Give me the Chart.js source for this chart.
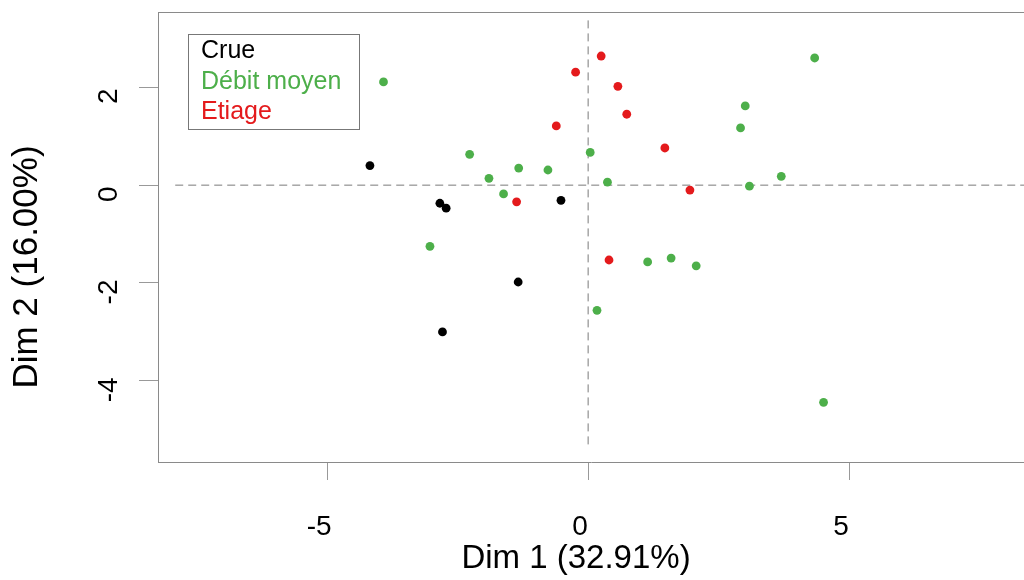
<!DOCTYPE html>
<html>
<head>
<meta charset="utf-8">
<script src="https://cdn.jsdelivr.net/npm/chart.js@4.4.1/dist/chart.umd.min.js"></script>
<style>
  html, body { margin: 0; padding: 0; background: #fff; overflow: hidden; }
  canvas { display: block; }
</style>
</head>
<body>
<canvas id="pca" width="1024" height="580"></canvas>
<script>
// groups and colours (legend order)
const groups = ['Crue', 'Débit moyen', 'Etiage'];
const groupColors = ['#000000', '#4DAF4A', '#E41A1C'];

// individual coordinates on Dim 1 / Dim 2
const crueX = [-4.18, -2.84, -2.72, -0.52, -1.34, -2.79];
const crueY = [0.40, -0.37, -0.47, -0.31, -1.98, -3.00];

const debitX = [-3.92, -2.27, -1.90, -1.33, -1.62, -0.77, 0.04, 0.37, -3.03, 1.14,
                1.59, 2.07, 3.01, 2.92, 3.09, 3.70, 4.34, 0.17, 4.51];
const debitY = [2.11, 0.63, 0.14, 0.35, -0.18, 0.31, 0.67, 0.06, -1.25, -1.57,
                -1.49, -1.65, 1.62, 1.17, -0.02, 0.18, 2.60, -2.56, -4.44];

const etiageX = [0.25, -0.24, 0.57, 0.74, -0.61, 1.47, 1.95, -1.37, 0.40];
const etiageY = [2.64, 2.31, 2.02, 1.45, 1.21, 0.76, -0.10, -0.34, -1.53];

// dashed reference lines through the origin
const hLineX = [-7.91, 8.35];
const hLineY = [0, 0];
const vLineX = [0, 0];
const vLineY = [-5.3, 3.37];

// axes
const xRange = [-8.24, 8.35];
const yRange = [-5.66, 3.54];
const xTicks = [-5, 0, 5];
const yTicks = [-4, -2, 0, 2];
const xTitle = 'Dim 1 (32.91%)';
const yTitle = 'Dim 2 (16.00%)';

const FONT = '"Liberation Sans", Arial, sans-serif';

const toPoints = (xs, ys) => xs.map((v, i) => ({ x: v, y: ys[i] }));

const pointSet = (i, xs, ys) => ({
  label: groups[i],
  data: toPoints(xs, ys),
  backgroundColor: groupColors[i],
  borderWidth: 0,
  pointRadius: 4.4,
  order: 1,
});

const dashLine = (xs, ys) => ({
  label: '',
  data: toPoints(xs, ys),
  showLine: true,
  borderColor: '#7a7a7a',
  borderWidth: 1,
  borderDash: [8, 5],
  pointRadius: 0,
  order: 5,
});

// box, rotated y labels, titles and legend, R style
const frame = {
  id: 'frame',
  afterDraw(chart) {
    const { ctx, chartArea: a, scales: { y } } = chart;
    ctx.save();

    ctx.strokeStyle = '#8a8a8a';
    ctx.lineWidth = 1;
    ctx.beginPath();
    ctx.moveTo(a.left, a.top + 0.5);
    ctx.lineTo(a.right, a.top + 0.5);
    ctx.stroke();

    ctx.fillStyle = '#000';
    ctx.textAlign = 'center';
    ctx.textBaseline = 'middle';
    ctx.font = '28px ' + FONT;
    yTicks.forEach((v) => {
      ctx.save();
      ctx.translate(a.left - 49, y.getPixelForValue(v) + 9);
      ctx.rotate(-Math.PI / 2);
      ctx.fillText(String(v), 0, 0);
      ctx.restore();
    });

    ctx.save();
    ctx.font = '35px ' + FONT;
    ctx.translate(a.left - 131, (a.top + a.bottom) / 2 + 30);
    ctx.rotate(-Math.PI / 2);
    ctx.fillText(yTitle, 0, 0);
    ctx.restore();

    ctx.font = '33px ' + FONT;
    ctx.textBaseline = 'alphabetic';
    ctx.fillText(xTitle, (a.left + a.right) / 2 - 15, a.bottom + 106);

    // legend: text only, inside a grey box
    const lx = a.left + 30, ly = a.top + 22;
    ctx.strokeStyle = '#777';
    ctx.strokeRect(lx + 0.5, ly + 0.5, 171, 95);
    ctx.font = '25px ' + FONT;
    ctx.textAlign = 'left';
    groups.forEach((g, i) => {
      ctx.fillStyle = groupColors[i];
      ctx.fillText(g, lx + 13, ly + 24 + i * 30.5);
    });

    ctx.restore();
  },
};

new Chart(document.getElementById('pca').getContext('2d'), {
  type: 'scatter',
  data: {
    datasets: [
      pointSet(0, crueX, crueY),
      pointSet(1, debitX, debitY),
      pointSet(2, etiageX, etiageY),
      dashLine(hLineX, hLineY),
      dashLine(vLineX, vLineY),
    ],
  },
  options: {
    responsive: false,
    animation: false,
    layout: { autoPadding: false, padding: { top: 12, right: 0, left: 0, bottom: 0 } },
    plugins: { legend: { display: false }, tooltip: { enabled: false } },
    scales: {
      x: {
        type: 'linear',
        min: xRange[0],
        max: xRange[1],
        afterBuildTicks: (s) => { s.ticks = xTicks.map((v) => ({ value: v })); },
        afterFit: (s) => { s.height = 118; },
        grid: { drawOnChartArea: false, tickLength: 18, tickColor: '#999' },
        border: { color: '#8a8a8a' },
        ticks: { color: '#000', font: { family: FONT, size: 28 }, padding: 30, labelOffset: -8 },
      },
      y: {
        type: 'linear',
        min: yRange[0],
        max: yRange[1],
        afterBuildTicks: (s) => { s.ticks = yTicks.map((v) => ({ value: v })); },
        afterFit: (s) => { s.width = 158; },
        grid: { drawOnChartArea: false, tickLength: 19, tickColor: '#999' },
        border: { color: '#8a8a8a' },
        ticks: { display: false },
      },
    },
  },
  plugins: [frame],
});
</script>
</body>
</html>
